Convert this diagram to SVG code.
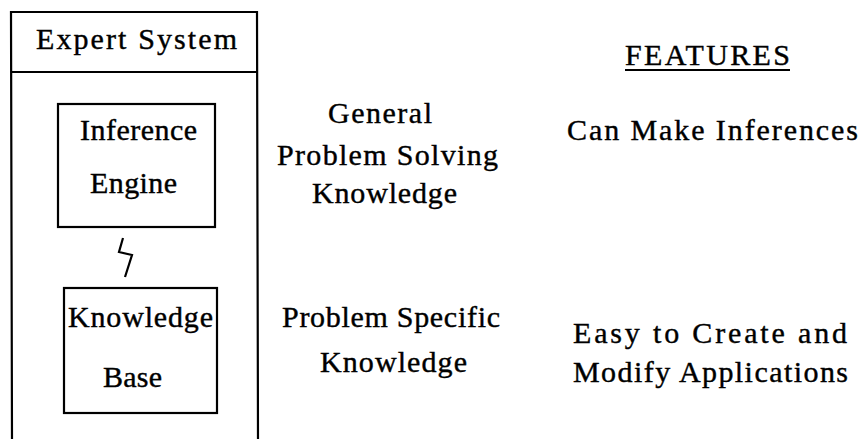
<svg xmlns="http://www.w3.org/2000/svg" width="863" height="439" viewBox="0 0 863 439">
<style>
.t{font-family:"Liberation Serif","Times New Roman",serif;font-size:30px;fill:#000;stroke:#000;stroke-width:0.4}
.b{fill:none;stroke:#000;stroke-width:2.2}
</style>
<rect width="863" height="439" fill="#fff"/>
<g id="expert-system">
<path class="b" d="M12,439 L11,12 L257,12 L258,439"/>
<line class="b" x1="11" y1="72" x2="257" y2="72"/>
<text class="t" x="36" y="49" textLength="201" lengthAdjust="spacing">Expert System</text>
</g>
<g id="inference-engine">
<rect class="b" x="58" y="104" width="157" height="123"/>
<text class="t" x="80" y="140" textLength="117" lengthAdjust="spacing">Inference</text>
<text class="t" x="90" y="193" textLength="87" lengthAdjust="spacing">Engine</text>
</g>
<g id="knowledge-base">
<rect class="b" x="64" y="288" width="153" height="125"/>
<text class="t" x="68" y="327" textLength="145" lengthAdjust="spacing">Knowledge</text>
<text class="t" x="103" y="387" textLength="59" lengthAdjust="spacing">Base</text>
</g>
<g id="connectors">
<path class="b" d="M123,238 L119,252 L132,255 L125,277"/>
</g>
<g id="general-knowledge">
<text class="t" x="328" y="123" textLength="104" lengthAdjust="spacing">General</text>
<text class="t" x="277" y="165" textLength="221" lengthAdjust="spacing">Problem Solving</text>
<text class="t" x="312" y="203" textLength="145" lengthAdjust="spacing">Knowledge</text>
</g>
<g id="specific-knowledge">
<text class="t" x="282" y="327" textLength="218" lengthAdjust="spacing">Problem Specific</text>
<text class="t" x="320" y="372" textLength="147" lengthAdjust="spacing">Knowledge</text>
</g>
<g id="features">
<text class="t" x="625" y="65" textLength="165" lengthAdjust="spacing">FEATURES</text>
<line class="b" x1="625" y1="70" x2="790" y2="70"/>
</g>
<g id="feature-inferences">
<text class="t" x="567" y="140" textLength="291" lengthAdjust="spacing">Can Make Inferences</text>
</g>
<g id="feature-applications">
<text class="t" x="573" y="343" textLength="274" lengthAdjust="spacing">Easy to Create and</text>
<text class="t" x="573" y="382" textLength="275" lengthAdjust="spacing">Modify Applications</text>
</g>
</svg>
